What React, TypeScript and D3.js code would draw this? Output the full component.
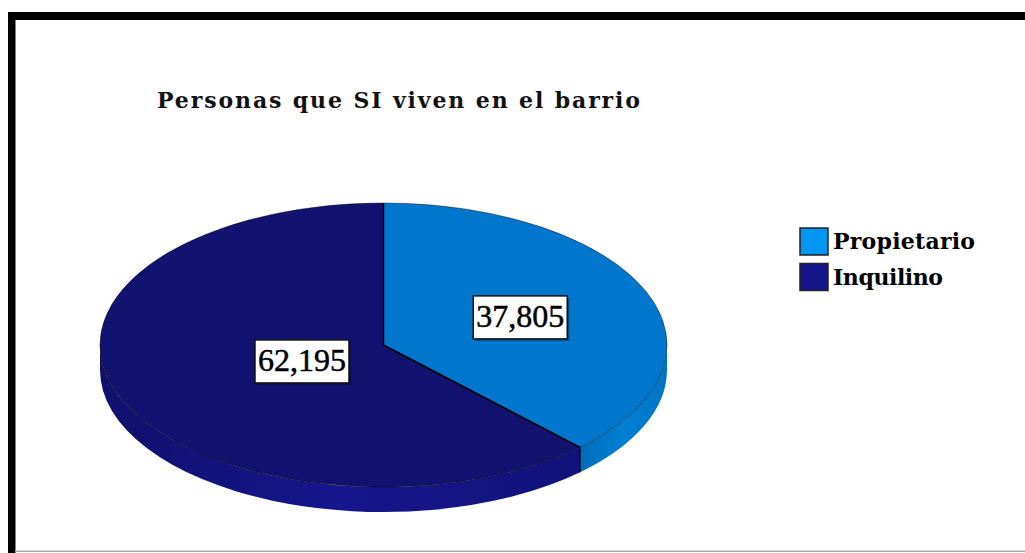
import React from "react";
import * as d3 from "d3";

const title = "Personas que SI viven en el barrio";
const categories = ["Propietario", "Inquilino"];
const values = [37.805, 62.195];
const valueLabels = ["37,805", "62,195"];
const topColors = ["#0077CC", "#121270"];
const legendColors = ["#0096F2", "#14148A"];
const sideColors = [
  ["#006CB8", "#0080D4", "#0074C4"],
  ["#10106C", "#16168E", "#12127A"],
];
const labelRadius = [0.52, 0.31];

const W = 1025;
const H = 553;
const cx = 383.5;
const cy = 345;
const rx = 283.5;
const ry = 142;
const depth = 25;

function pt(a: number, dy = 0): [number, number] {
  return [cx + rx * Math.sin(a), cy - ry * Math.cos(a) + dy];
}

function topPath(a0: number, a1: number) {
  const p0 = pt(a0);
  const p1 = pt(a1);
  const large = a1 - a0 > Math.PI ? 1 : 0;
  return `M${cx},${cy} L${p0[0]},${p0[1]} A${rx},${ry} 0 ${large} 1 ${p1[0]},${p1[1]} Z`;
}

function sidePath(a0: number, a1: number) {
  const s0 = Math.max(a0, Math.PI / 2);
  const s1 = Math.min(a1, (3 * Math.PI) / 2);
  if (s1 <= s0) return null;
  const p0 = pt(s0);
  const p1 = pt(s1);
  const q1 = pt(s1, depth);
  const q0 = pt(s0, depth);
  return {
    d: `M${p0[0]},${p0[1]} A${rx},${ry} 0 0 1 ${p1[0]},${p1[1]} L${q1[0]},${q1[1]} A${rx},${ry} 0 0 0 ${q0[0]},${q0[1]} Z`,
    x0: Math.min(p0[0], p1[0]),
    x1: Math.max(p0[0], p1[0]),
  };
}

export default function App() {
  const arcs = d3.pie<number>().sort(null).value((d) => d)(values);
  const serif = "'Liberation Serif', 'Times New Roman', serif";
  const dserif = "'DejaVu Serif', serif";
  return (
    <svg
      width={W}
      height={H}
      style={{ position: "absolute", left: 0, top: 0, background: "#fff" }}
    >
      <defs>
        {arcs.map((a, i) => {
          const s = sidePath(a.startAngle, a.endAngle);
          if (!s) return null;
          return (
            <linearGradient
              key={i}
              id={`side${i}`}
              gradientUnits="userSpaceOnUse"
              x1={s.x0}
              x2={s.x1}
              y1={0}
              y2={0}
            >
              <stop offset="0" stopColor={sideColors[i][0]} />
              <stop offset="0.5" stopColor={sideColors[i][1]} />
              <stop offset="1" stopColor={sideColors[i][2]} />
            </linearGradient>
          );
        })}
      </defs>
      <rect x={0} y={0} width={W} height={H} fill="#fff" />
      {/* frame */}
      <rect x={8} y={12} width={W - 8} height={8} fill="#000" />
      <rect x={8} y={12} width={7.5} height={H - 12} fill="#000" />
      <rect x={15} y={550.5} width={W - 15} height={1.5} fill="#aaa" />

      <text
        x={157}
        y={108}
        fontFamily={dserif}
        fontWeight="bold"
        fontSize={22}
        textLength={483}
        lengthAdjust="spacing"
        fill="#111"
      >
        {title}
      </text>

      {/* sides */}
      {arcs.map((a, i) => {
        const s = sidePath(a.startAngle, a.endAngle);
        if (!s) return null;
        return <path key={i} d={s.d} fill={`url(#side${i})`} />;
      })}
      {/* tops */}
      {arcs.map((a, i) => (
        <path key={i} d={topPath(a.startAngle, a.endAngle)} fill={topColors[i]} />
      ))}
      <ellipse cx={cx} cy={cy} rx={rx} ry={ry} fill="none" stroke="#000" strokeOpacity={0.45} strokeWidth={1} />
      {arcs.map((a, i) => {
        const p = pt(a.startAngle);
        return <line key={i} x1={cx} y1={cy} x2={p[0]} y2={p[1]} stroke="#000" strokeWidth={1.5} />;
      })}
      {arcs.map((a, i) => {
        const ang = a.endAngle;
        if (ang <= Math.PI / 2 || ang >= (3 * Math.PI) / 2) return null;
        const p = pt(ang);
        return <line key={i} x1={p[0]} y1={p[1]} x2={p[0]} y2={p[1] + depth} stroke="#000" strokeWidth={1} />;
      })}

      {/* labels */}
      {arcs.map((a, i) => {
        const mid = (a.startAngle + a.endAngle) / 2;
        const lx = cx + rx * labelRadius[i] * Math.sin(mid);
        const ly = cy - ry * labelRadius[i] * Math.cos(mid);
        const bw = 94;
        const bh = 43;
        return (
          <g key={i}>
            <rect x={lx - bw / 2 + 2} y={ly - bh / 2 + 2} width={bw} height={bh} fill="#000" fillOpacity={0.35} />
            <rect x={lx - bw / 2} y={ly - bh / 2} width={bw} height={bh} fill="#fff" stroke="#111" strokeWidth={1.5} />
            <text
              x={lx}
              y={ly + 10}
              textAnchor="middle"
              fontFamily={serif}
              fontSize={32}
              fill="#000"
              stroke="#000"
              strokeWidth={0.5}
            >
              {valueLabels[i]}
            </text>
          </g>
        );
      })}

      {/* legend */}
      {categories.map((c, i) => (
        <g key={c}>
          <rect x={800} y={228 + i * 35.5} width={28} height={27} fill={legendColors[i]} stroke="#222" strokeWidth={1.5} />
          <text
            x={833}
            y={249 + i * 36}
            fontFamily={dserif}
            fontWeight="bold"
            fontSize={22}
            textLength={i === 0 ? 142 : 110}
            lengthAdjust="spacing"
            fill="#000"
          >
            {c}
          </text>
        </g>
      ))}
    </svg>
  );
}
